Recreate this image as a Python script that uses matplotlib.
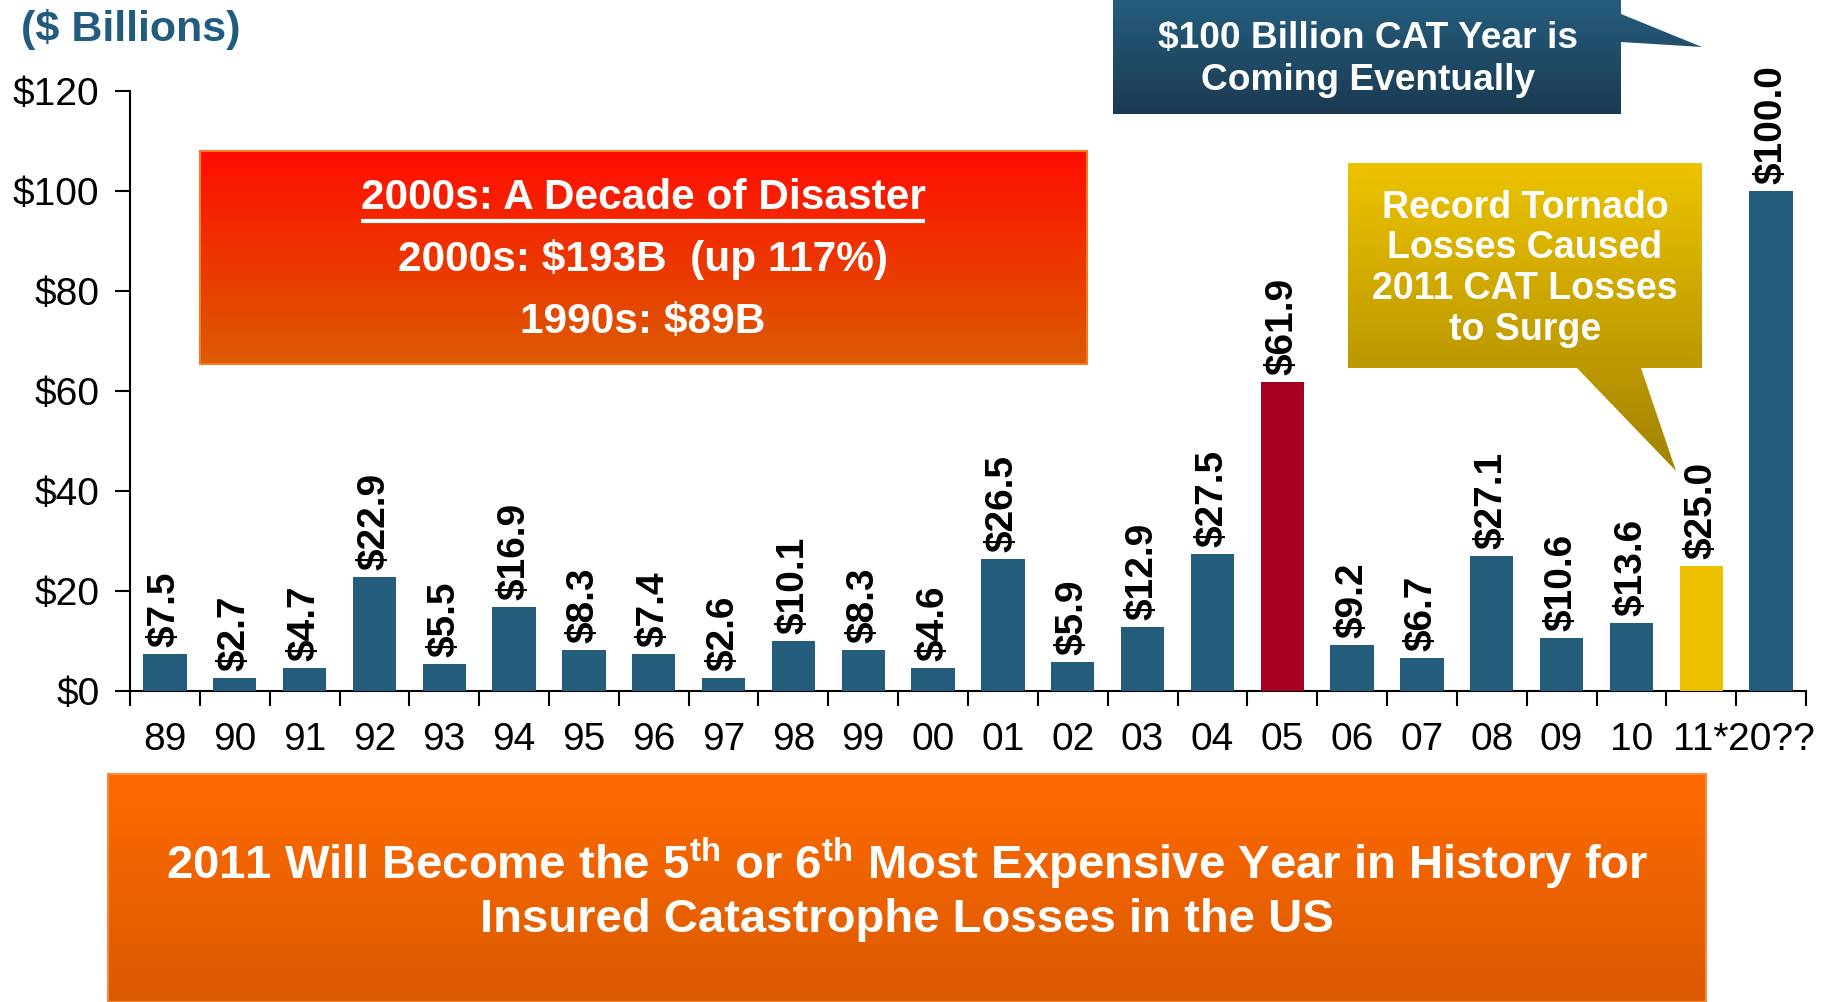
#Grafica de perdidas catastroficas aseguradas en EE.UU.
import numpy as np
import matplotlib
matplotlib.use("Agg")
import matplotlib.pyplot as plt
from matplotlib.patches import Polygon
from matplotlib.colors import LinearSegmentedColormap

plt.rcParams['font.family'] = ['Liberation Sans', 'DejaVu Sans']
plt.rcParams['mathtext.default'] = 'regular'

#Datos
anios = ["89", "90", "91", "92", "93", "94", "95", "96", "97", "98", "99",
         "00", "01", "02", "03", "04", "05", "06", "07", "08", "09", "10",
         "11*", "20??"]
perdidas = [7.5, 2.7, 4.7, 22.9, 5.5, 16.9, 8.3, 7.4, 2.6, 10.1, 8.3,
            4.6, 26.5, 5.9, 12.9, 27.5, 61.9, 9.2, 6.7, 27.1, 10.6, 13.6,
            25.0, 100.0]
ticks_y = [0, 20, 40, 60, 80, 100, 120]

azul = "#245C7C"
destacados = {"05": "#A50021", "11*": "#EEC100"}
colores = [destacados.get(a, azul) for a in anios]

W, H = 1825, 1002
fig = plt.figure(figsize=(W / 100, H / 100), dpi=100)
ax = fig.add_axes([130 / W, 1 - 691 / H, (1806 - 130) / W, 600 / H])

x = np.arange(len(anios))
ax.bar(x, perdidas, width=0.62, color=colores, zorder=3)
for xi, v in zip(x, perdidas):
    ax.annotate(f"${v:.1f}", (xi, v), xytext=(0, 5), textcoords='offset points',
                rotation=90, ha='center', va='bottom', fontsize=28,
                fontweight='bold', color='black')

ax.set_xlim(-0.5, len(anios) - 0.5)
ax.set_ylim(0, 120)
ax.set_yticks(ticks_y)
ax.set_yticklabels([f"${t}" for t in ticks_y])
ax.set_xticks(x)
ax.set_xticklabels(anios)
ax.set_xticks(np.arange(-0.5, len(anios), 1), minor=True)
ax.tick_params(axis='x', which='major', length=0, labelsize=28, pad=22)
ax.tick_params(axis='x', which='minor', length=11, width=1.5, direction='out')
ax.tick_params(axis='y', length=11, width=1.5, labelsize=28, pad=11)
for lado in ['top', 'right']:
    ax.spines[lado].set_visible(False)
for lado in ['left', 'bottom']:
    ax.spines[lado].set_linewidth(1.5)

#Capa superior en pixeles para cajas y textos
ov = fig.add_axes([0, 0, 1, 1])
ov.set_autoscale_on(False)
ov.set_xlim(0, W)
ov.set_ylim(H, 0)
ov.axis('off')
ov.patch.set_alpha(0)


def caja(pts, c_arriba, c_abajo, borde='none'):
    xs = [p[0] for p in pts]
    ys = [p[1] for p in pts]
    cmap = LinearSegmentedColormap.from_list('g', [c_arriba, c_abajo])
    grad = np.linspace(0, 1, 256).reshape(-1, 1)
    im = ov.imshow(grad, cmap=cmap, aspect='auto', zorder=2,
                   extent=(min(xs), max(xs), max(ys), min(ys)))
    poly = Polygon(pts, closed=True, facecolor='none', edgecolor=borde,
                   linewidth=1.5, zorder=3)
    ov.add_patch(poly)
    im.set_clip_path(poly)


#Caja roja
caja([(200, 151), (1087, 151), (1087, 364), (200, 364)], "#FF0D00", "#DC5C00", "#F47A2A")
titulo = ov.text(643, 198, "2000s: A Decade of Disaster", ha='center', va='center',
                 color='white', fontsize=30.5, fontweight='bold', zorder=4)
ov.text(643, 259, "2000s: $193B  (up 117%)", ha='center', va='center',
        color='white', fontsize=30.5, fontweight='bold', zorder=4)
ov.text(643, 322, "1990s: $89B", ha='center', va='center',
        color='white', fontsize=30.5, fontweight='bold', zorder=4)

#Caja azul
caja([(1113, 0), (1621, 0), (1621, 14), (1702, 47), (1621, 42), (1621, 114), (1113, 114)],
     "#255D7D", "#1B3A52")
ov.text(1368, 38, "$100 Billion CAT Year is", ha='center', va='center',
        color='white', fontsize=26.7, fontweight='bold', zorder=4)
ov.text(1368, 80, "Coming Eventually", ha='center', va='center',
        color='white', fontsize=26.7, fontweight='bold', zorder=4)

#Caja dorada
caja([(1348, 163), (1702, 163), (1702, 368), (1641, 368), (1676, 471), (1577, 368), (1348, 368)],
     "#EEC300", "#A28200")
for yy, linea in zip([208, 248, 289, 330],
                     ["Record Tornado", "Losses Caused", "2011 CAT Losses", "to Surge"]):
    ov.text(1525, yy, linea, ha='center', va='center', color='white',
            fontsize=27, fontweight='bold', zorder=4)

#Caja naranja inferior
caja([(108, 774), (1706, 774), (1706, 1002), (108, 1002)], "#FF6A00", "#DA5A00", "#F88A40")
ov.text(907, 863, "2011 Will Become the 5$^{th}$ or 6$^{th}$ Most Expensive Year in History for",
        ha='center', va='center', color='white', fontsize=34, fontweight='bold', zorder=4)
ov.text(907, 920, "Insured Catastrophe Losses in the US", ha='center', va='center',
        color='white', fontsize=34, fontweight='bold', zorder=4)

ov.text(21, 29, "($ Billions)", ha='left', va='center', color='#215B7D',
        fontsize=31, fontweight='bold')

#Subrayado del titulo
fig.canvas.draw()
bb = titulo.get_window_extent()
inv = ov.transData.inverted()
(x0, _), (x1, _) = inv.transform([(bb.x0, bb.y0), (bb.x1, bb.y0)])
ov.plot([x0, x1], [221, 221], color='white', linewidth=3, zorder=4,
        solid_capstyle='butt')

fig.savefig("out.png", dpi=100)
